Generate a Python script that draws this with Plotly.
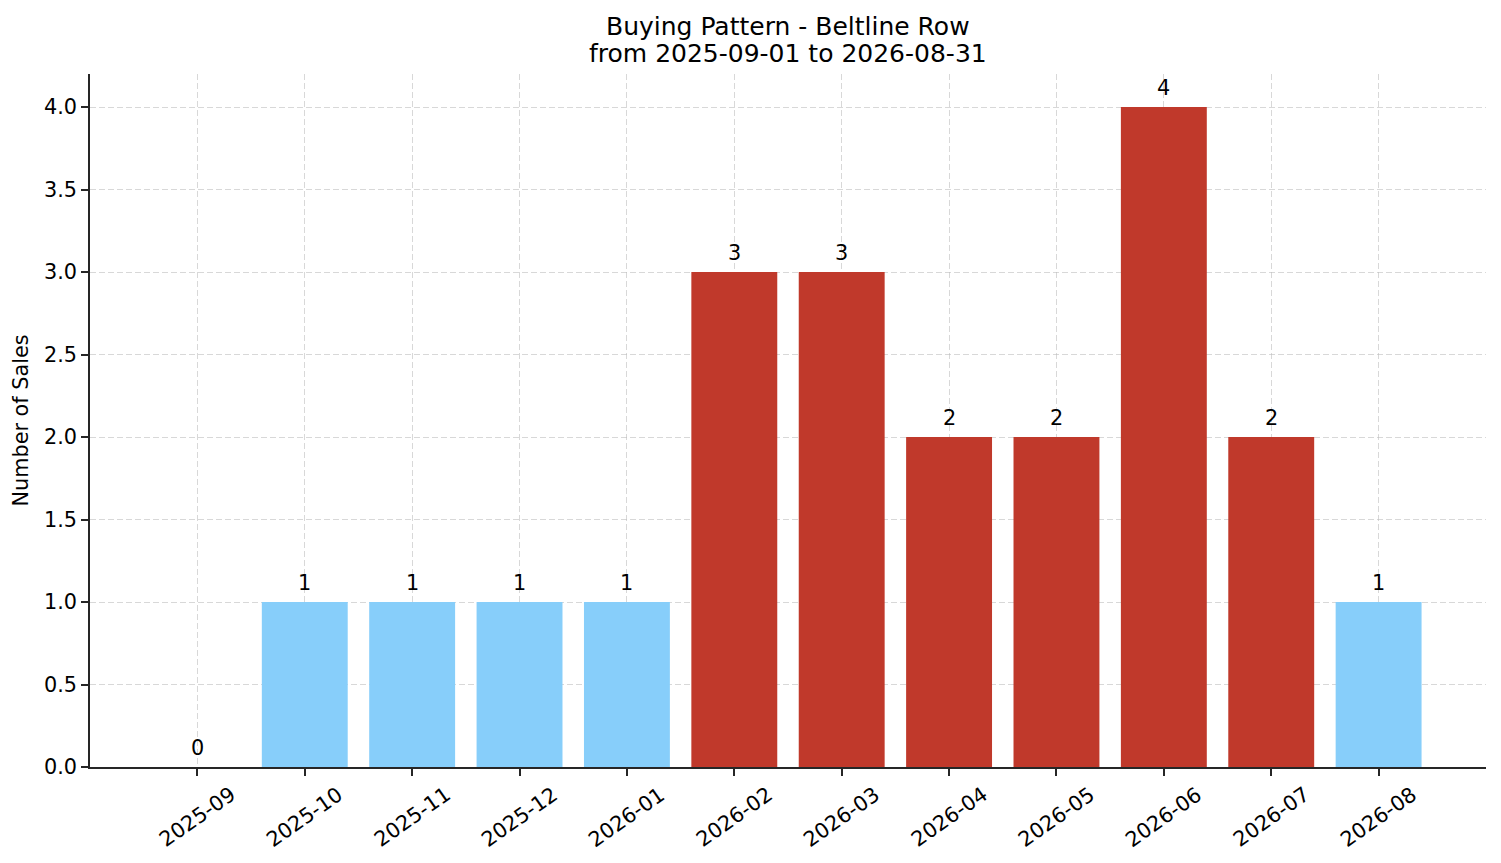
import plotly.graph_objects as go

months = ["2025-09", "2025-10", "2025-11", "2025-12", "2026-01", "2026-02",
          "2026-03", "2026-04", "2026-05", "2026-06", "2026-07", "2026-08"]
sales = [0, 1, 1, 1, 1, 3, 3, 2, 2, 4, 2, 1]
# months at or above the threshold are drawn red, the rest light blue
threshold = 2
title_lines = ["Buying Pattern - Beltline Row", "from 2025-09-01 to 2026-08-31"]

BLUE = "#87CEFA"
RED = "#C0392B"
FONT = "DejaVu Sans"
AX = "#262626"

colors = [RED if v >= threshold else BLUE for v in sales]

fig = go.Figure()
fig.add_trace(go.Bar(
    x=months, y=sales, width=0.8,
    marker=dict(color=colors, line=dict(width=0)),
    showlegend=False, hoverinfo="x+y",
))

# value labels a little above each bar
for m, v in zip(months, sales):
    fig.add_annotation(x=m, y=v, xref="x", yref="y", text=str(v), showarrow=False,
                       xanchor="center", yanchor="bottom", yshift=5,
                       font=dict(family=FONT, size=20.8, color="black"))

# rotated, centred tick labels like matplotlib's rotation=35
for m in months:
    fig.add_annotation(x=m, y=0, xref="x", yref="paper", text=m, showarrow=False,
                       textangle=-35, xanchor="center", yanchor="middle", yshift=-50,
                       font=dict(family=FONT, size=20.8, color="black"))

# two line title, one annotation per line
for line, shift in zip(title_lines, [48, 21]):
    fig.add_annotation(x=0.5, y=1, xref="paper", yref="paper", showarrow=False,
                       text=line, xanchor="center", yanchor="middle", yshift=shift,
                       font=dict(family=FONT, size=25, color="black"))

grid = dict(showgrid=True, gridcolor="rgba(190,190,190,0.6)", griddash="6px,3px", gridwidth=1)

fig.update_layout(
    width=1485, height=847,
    margin=dict(l=82, r=7, t=66, b=88),
    plot_bgcolor="white", paper_bgcolor="white",
    font=dict(family=FONT, size=20.8, color="black"),
    bargap=0.2,
    xaxis=dict(type="category", range=[-1, 12], showticklabels=False, ticks="outside", ticklen=7,
               tickwidth=1.6, tickcolor=AX, showline=True, linecolor=AX,
               linewidth=1.6, zeroline=False, layer="above traces", **grid),
    yaxis=dict(range=[0, 4.2], tickvals=[0, 0.5, 1, 1.5, 2, 2.5, 3, 3.5, 4], tickformat=".1f",
               ticks="outside", ticklen=7, tickwidth=1.6, tickcolor=AX,
               showline=True, linecolor=AX, linewidth=1.6, zeroline=False,
               title=dict(text="Number of Sales", standoff=10, font=dict(family=FONT, size=20.8)),
               layer="above traces", **grid),
)

fig.write_html("out.html")
